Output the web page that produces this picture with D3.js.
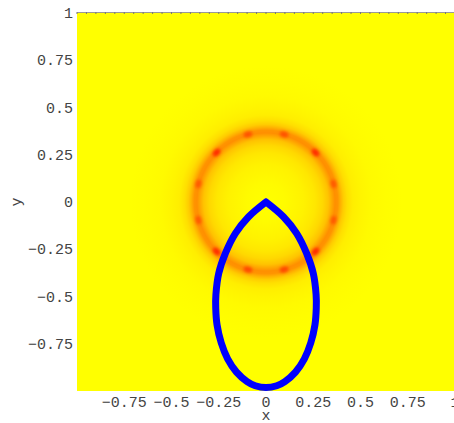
<!DOCTYPE html>
<html>
<head>
<meta charset="utf-8">
<script src="https://cdn.jsdelivr.net/npm/d3@7"></script>
<style>
  body { margin: 0; background: #fff; }
  text { font-family: "Liberation Mono", monospace; font-size: 15px; fill: #444; }
</style>
</head>
<body>
<svg id="chart" width="454" height="423"></svg>
<script>
// tick labels
var xTicks = [-0.75, -0.5, -0.25, 0, 0.25, 0.5, 0.75, 1];
var yTicks = [1, 0.75, 0.5, 0.25, 0, -0.25, -0.5, -0.75];

// radial intensity of the field around the origin (radius, value 0..1)
var ringRadius = [0, 0.10, 0.20, 0.26, 0.30, 0.33, 0.35, 0.365, 0.38, 0.395, 0.41, 0.43, 0.46, 0.50, 0.56, 0.64, 0.72];
var ringValue  = [0.00, 0.02, 0.06, 0.11, 0.18, 0.28, 0.42, 0.52, 0.50, 0.36, 0.24, 0.15, 0.08, 0.05, 0.025, 0.01, 0.00];

// hot spots on the ring (angle in degrees, value)
var spotAngle = [15, 45, 75, 105, 135, 165, 195, 225, 255, 285, 315, 345];
var spotValue = [0.72, 0.9, 0.75, 0.75, 0.9, 0.72, 0.72, 0.9, 0.78, 0.78, 0.9, 0.72];
var spotR = 0.37;

// teardrop curve, right half from the tip down to the bottom
var dropX = [0, 0.092, 0.162, 0.215, 0.250, 0.265, 0.266, 0.259, 0.237, 0.203, 0.156, 0.100, 0.057, 0];
var dropY = [0, -0.078, -0.166, -0.272, -0.377, -0.490, -0.560, -0.650, -0.745, -0.830, -0.900, -0.950, -0.972, -0.982];

var svg = d3.select('#chart');
var x = d3.scaleLinear().domain([-1, 1]).range([77, 455]);
var y = d3.scaleLinear().domain([-1, 1]).range([391, 13]);
var color = d3.scaleLinear().domain([0, 0.5, 1]).range(['#ffff00', '#ff9400', '#ff1000']);

var defs = svg.append('defs');
defs.append('clipPath').attr('id', 'plot')
    .append('rect')
    .attr('x', x(-1)).attr('y', y(1))
    .attr('width', x(1) - x(-1)).attr('height', y(-1) - y(1));

var rmax = ringRadius[ringRadius.length - 1];
defs.append('radialGradient').attr('id', 'ring')
    .selectAll('stop')
    .data(ringRadius)
    .enter().append('stop')
      .attr('offset', function (d) { return d / rmax; })
      .attr('stop-color', function (d, i) { return color(ringValue[i]); });

defs.append('filter').attr('id', 'blur')
    .attr('x', '-100%').attr('y', '-100%').attr('width', '300%').attr('height', '300%')
    .append('feGaussianBlur').attr('stdDeviation', 1.8);

var g = svg.append('g').attr('clip-path', 'url(#plot)');

g.append('rect')
 .attr('x', x(-1)).attr('y', y(1))
 .attr('width', x(1) - x(-1)).attr('height', y(-1) - y(1))
 .attr('fill', color(0));

g.append('circle')
 .attr('cx', x(0)).attr('cy', y(0))
 .attr('r', x(rmax) - x(0))
 .attr('fill', 'url(#ring)');

g.selectAll('.spot')
 .data(spotAngle)
 .enter().append('ellipse')
   .attr('class', 'spot')
   .attr('transform', function (d) {
       return 'translate(' + x(spotR * Math.cos(d * Math.PI / 180)) + ',' +
              y(spotR * Math.sin(d * Math.PI / 180)) + ') rotate(' + (90 - d) + ')';
   })
   .attr('rx', 4.5).attr('ry', 3)
   .attr('fill', function (d, i) { return color(spotValue[i]); })
   .attr('filter', 'url(#blur)');

// teardrop: open path from the tip round and back to the tip, so the tip stays a corner
var pts = [];
for (var i = 0; i < dropX.length; i++) { pts.push([dropX[i], dropY[i]]); }
for (var i = dropX.length - 2; i >= 0; i--) { pts.push([-dropX[i], dropY[i]]); }

var line = d3.line()
    .x(function (d) { return x(d[0]); })
    .y(function (d) { return y(d[1]); })
    .curve(d3.curveCatmullRom);

svg.append('path')
   .attr('d', line(pts))
   .attr('fill', 'none')
   .attr('stroke', '#0000ff')
   .attr('stroke-width', 7)
   .attr('stroke-linecap', 'round')
   .attr('stroke-linejoin', 'round');

// top frame line with small ticks
svg.append('line')
   .attr('x1', x(-1)).attr('x2', x(1))
   .attr('y1', y(1) - 0.5).attr('y2', y(1) - 0.5)
   .attr('stroke', '#999').attr('stroke-width', 1);
svg.selectAll('.ftick')
   .data(d3.range(-20, 21))
   .enter().append('line')
     .attr('class', 'ftick')
     .attr('x1', function (d) { return x(d / 20); })
     .attr('x2', function (d) { return x(d / 20); })
     .attr('y1', y(1) - 1).attr('y2', y(1) + 1)
     .attr('stroke', '#777').attr('stroke-width', 1);

// tick labels
svg.selectAll('.xl')
   .data(xTicks)
   .enter().append('text')
     .attr('class', 'xl')
     .attr('x', function (d) { return x(d); })
     .attr('y', 407)
     .attr('text-anchor', 'middle')
     .text(function (d) { return d3.format('')(d).replace('-', '\u2212'); });

svg.selectAll('.yl')
   .data(yTicks)
   .enter().append('text')
     .attr('class', 'yl')
     .attr('x', 73)
     .attr('y', function (d) { return y(d) + 5; })
     .attr('text-anchor', 'end')
     .text(function (d) { return d3.format('')(d).replace('-', '\u2212'); });

svg.append('text')
   .attr('x', x(0)).attr('y', 420)
   .attr('text-anchor', 'middle')
   .text('x');

svg.append('text')
   .attr('transform', 'translate(21,' + y(0) + ') rotate(-90)')
   .attr('text-anchor', 'middle')
   .text('y');
</script>
</body>
</html>
